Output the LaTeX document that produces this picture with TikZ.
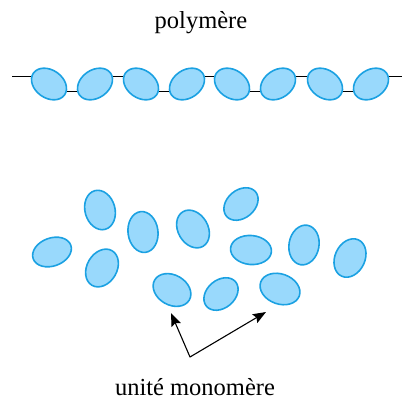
\documentclass[tikz,border=0pt]{standalone}
\usepackage{fontspec}
\setmainfont{Liberation Serif}
\usetikzlibrary{shapes.geometric,arrows.meta,backgrounds}
\definecolor{monofill}{RGB}{153,217,252}
\definecolor{monodraw}{RGB}{27,161,226}
\begin{document}
\begin{tikzpicture}[x=1pt,y=-1pt,line join=round,line cap=round,>={Stealth[length=13pt,width=10pt,inset=2pt]},font=\fontsize{24.5}{29}\selectfont]
                \def\yc{84}\def\hi{8pt}\def\lo{-7pt}
                \tikzset{m/.style={ellipse,draw=monodraw,fill=monofill,line width=1.6pt,inner sep=0pt,minimum width=38pt,minimum height=28pt}}
                \useasboundingbox (0,0) rectangle (402,400);

                \node[anchor=base](poly) at (201,28){polymère};
                \foreach \i/\x/\a in {1/49/-35,2/95/35,3/141/-35,4/187/35,5/232/-35,6/278/35,7/325/-35,8/371/35}{
                    \node[m,rotate=\a](c\i) at (\x,\yc){};	}
                \coordinate (g) at (12,76); \coordinate (d) at (402,76);
                \begin{scope}[on background layer,line width=1.8pt,draw=black!75]
                    \draw (g) -- ([yshift=\hi]c1.center);
                    \draw ([yshift=\hi]c8.center) -- (d);
                    \foreach \p/\q/\s in {c1/c2/\lo,c2/c3/\hi,c3/c4/\lo,c4/c5/\hi,c5/c6/\lo,c6/c7/\hi,c7/c8/\lo}{
                        \draw ([yshift=\s]\p.center) -- ([yshift=\s]\q.center);	}
                \end{scope}

                \foreach \i/\x/\y/\w/\h/\a in {1/52/252/40/28/20,2/100/210/40/30/105,3/143/232/41/30/97,4/193/229/40/30/120,
                    5/241/204/38/28/40,6/102/268/40/30/60,7/251/250/41/29/-5,8/304/245/40/30/80,9/350/258/40/30/65,
                    10/172/290/40/30/-30,11/221/294/38/28/40,12/280/289/41/30/-20}{
                    \node[m,minimum width=\w pt,minimum height=\h pt,rotate=\a](u\i) at (\x,\y){};	}

                \node[anchor=base](unit) at (195,395){unité monomère};
                \coordinate (v) at (190,357); \coordinate (ta) at (171,313); \coordinate (tb) at (266,312);
                \draw[<->,line width=1.1pt] (ta) -- (v) -- (tb);
            \end{tikzpicture}
\end{document}
